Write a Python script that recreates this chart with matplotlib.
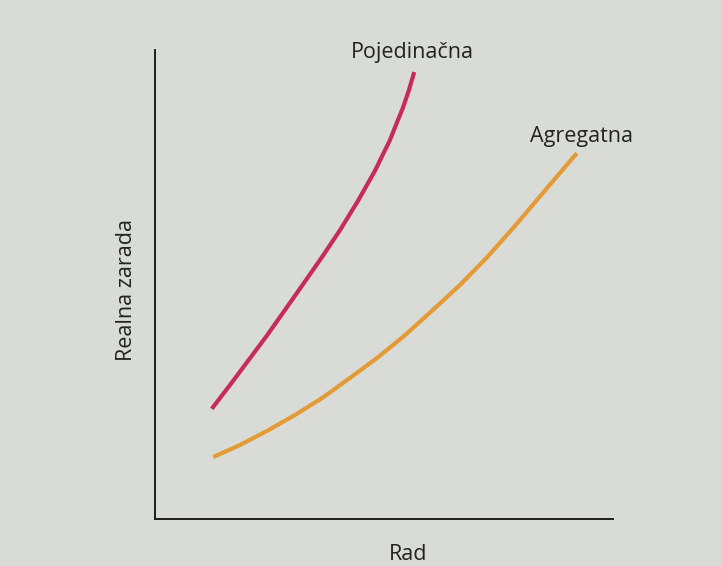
import matplotlib
matplotlib.use('Agg')
import matplotlib.pyplot as plt

# ── data (arbitrary units 0-100) ────────────────────────────────────────────
rad_poj = [12.4, 16.4, 20.3, 24.5, 28.4, 32.5, 36.5, 40.4, 44.3, 48.0, 51.3, 52.6, 54.1, 55.4, 56.6]
zar_poj = [23.5, 28.6, 33.7, 39.2, 44.6, 50.3, 55.9, 61.6, 67.8, 74.2, 80.8, 84.0, 87.6, 91.3, 95.3]

rad_agr = [12.7, 18.6, 24.5, 30.6, 36.5, 42.6, 48.7, 54.6, 60.7, 66.6, 72.5, 78.6, 85.2, 92.1]
zar_agr = [13.2, 15.8, 18.8, 22.2, 25.8, 30.1, 34.5, 39.2, 44.6, 49.9, 55.8, 62.5, 70.1, 78.0]

LABEL_POJ = 'Pojedinačna'
LABEL_AGR = 'Agregatna'
X_LABEL = 'Rad'
Y_LABEL = 'Realna zarada'

# ── style ────────────────────────────────────────────────────────────────────
BG = '#d9dbd7'
C_POJ = '#c72a5e'
C_AGR = '#e49b37'
TXT = '#222222'
FS = 15.5
plt.rcParams['font.family'] = ['Open Sans', 'DejaVu Sans']

fig = plt.figure(figsize=(7.21, 5.66), dpi=100, facecolor=BG)
ax = fig.add_axes([155 / 721, 1 - 519 / 566, (613 - 155) / 721, (519 - 50) / 566])
ax.set_facecolor(BG)

ax.plot(rad_poj, zar_poj, color=C_POJ, lw=3.0, solid_capstyle='butt', solid_joinstyle='round')
ax.plot(rad_agr, zar_agr, color=C_AGR, lw=3.0, solid_capstyle='butt', solid_joinstyle='round')

ax.set_xlim(0, 100)
ax.set_ylim(0, 100)
for s in ['top', 'right']:
    ax.spines[s].set_visible(False)
for s in ['left', 'bottom']:
    ax.spines[s].set_color('#1e1e1e')
    ax.spines[s].set_linewidth(1.4)
ax.set_xticks([])
ax.set_yticks([])

# curve labels above the curve ends
ax.text(56.3, 98.3, LABEL_POJ, ha='center', va='baseline', fontsize=FS, color=TXT, clip_on=False)
ax.text(93.2, 80.4, LABEL_AGR, ha='center', va='baseline', fontsize=FS, color=TXT, clip_on=False)

# axis titles (placed like in the book figure)
ax.text(0.552, -0.087, X_LABEL, transform=ax.transAxes, ha='center', va='baseline',
        fontsize=FS, color=TXT)
ax.text(-0.062, 0.488, Y_LABEL, transform=ax.transAxes, ha='center', va='center',
        rotation=90, fontsize=FS, color=TXT)

fig.savefig('out.png', dpi=100, facecolor=BG)
